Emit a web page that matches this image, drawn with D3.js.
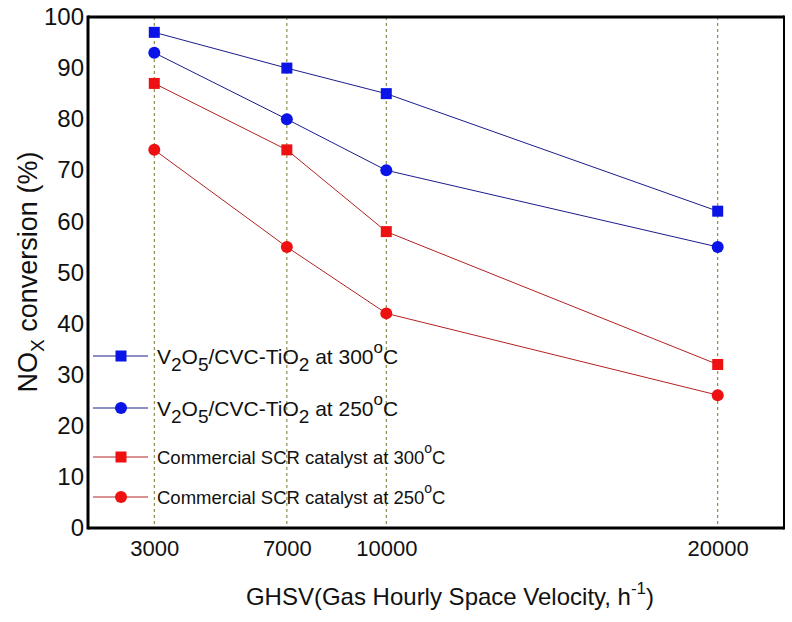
<!DOCTYPE html>
<html><head><meta charset="utf-8">
<script src="https://cdn.jsdelivr.net/npm/d3@7"></script>
<style>body{margin:0;background:#fff}svg{display:block;font-family:"Liberation Sans",Arial,sans-serif}</style>
</head><body><svg id="c" width="792" height="622"></svg>
<script>
const ghsv = [3000, 7000, 10000, 20000];
const xTickLabels = ["3000", "7000", "10000", "20000"];
const yTicks = [0,10,20,30,40,50,60,70,80,90,100];
const v300 = [97, 90, 85, 62];
const v250 = [93, 80, 70, 55];
const c300 = [87, 74, 58, 32];
const c250 = [74, 55, 42, 26];

const series = [
  {vals: v300, shape: "square", line: "#1c1c8c", fill: "#0a14e6", label: "V2O5/CVC-TiO2 at 300", big: true},
  {vals: v250, shape: "circle", line: "#1c1c8c", fill: "#0a14e6", label: "V2O5/CVC-TiO2 at 250", big: true},
  {vals: c300, shape: "square", line: "#b22222", fill: "#ee1111", label: "Commercial SCR catalyst at 300", big: false},
  {vals: c250, shape: "circle", line: "#b22222", fill: "#ee1111", label: "Commercial SCR catalyst at 250", big: false}
];

const L = 88, R = 784, T = 17, B = 528;
const svg = d3.select("#c");
const x = d3.scaleLinear().domain([1000, 22000]).range([L, R]);
const y = d3.scaleLinear().domain([0, 100]).range([B, T]);

// gridlines
svg.append("g").selectAll("line").data(ghsv).join("line")
  .attr("x1", d => x(d)).attr("x2", d => x(d)).attr("y1", T).attr("y2", B)
  .attr("stroke", "#76762a").attr("stroke-width", 1).attr("stroke-dasharray", "3,3");

function marker(g, shape, cx, cy, fill) {
  if (shape === "square") {
    g.append("rect").attr("x", cx - 5.5).attr("y", cy - 5.5).attr("width", 11).attr("height", 11).attr("fill", fill);
  } else {
    g.append("circle").attr("cx", cx).attr("cy", cy).attr("r", 6).attr("fill", fill);
  }
}
const lineGen = d3.line().x((d, i) => x(ghsv[i])).y(d => y(d));
series.forEach(s => {
  svg.append("path").attr("d", lineGen(s.vals)).attr("fill", "none").attr("stroke", s.line).attr("stroke-width", 1);
  const g = svg.append("g");
  s.vals.forEach((v, i) => marker(g, s.shape, x(ghsv[i]), y(v), s.fill));
});

// frame
svg.append("line").attr("x1", L).attr("x2", R).attr("y1", T).attr("y2", T).attr("stroke", "#000").attr("stroke-width", 3);
svg.append("line").attr("x1", L).attr("x2", R).attr("y1", B).attr("y2", B).attr("stroke", "#000").attr("stroke-width", 3);
svg.append("line").attr("x1", L).attr("x2", L).attr("y1", T - 1.5).attr("y2", B + 1.5).attr("stroke", "#000").attr("stroke-width", 3);
svg.append("line").attr("x1", R).attr("x2", R).attr("y1", T - 1.5).attr("y2", B + 1.5).attr("stroke", "#000").attr("stroke-width", 2);

// axes (no tick marks)
const yAxis = d3.axisLeft(y).tickValues(yTicks).tickSize(0).tickPadding(4);
const ya = svg.append("g").attr("transform", `translate(${L},0)`).call(yAxis);
ya.select(".domain").remove();
ya.selectAll("text").attr("font-size", 24).attr("fill", "#111").attr("font-family", "Liberation Sans, Arial");

const xAxis = d3.axisBottom(x).tickValues(ghsv).tickFormat((d, i) => xTickLabels[i]).tickSize(0).tickPadding(12);
const xa = svg.append("g").attr("transform", `translate(0,${B})`).call(xAxis);
xa.select(".domain").remove();
xa.selectAll("text").attr("font-size", 22).attr("fill", "#111").attr("font-family", "Liberation Sans, Arial");

// axis titles
const xt = svg.append("text").attr("x", 450).attr("y", 605).attr("text-anchor", "middle").attr("font-size", 24).attr("fill", "#111");
xt.append("tspan").text("GHSV(Gas Hourly Space Velocity, h");
xt.append("tspan").attr("dy", -11).attr("font-size", 17).text("-1");
xt.append("tspan").attr("dy", 11).text(")");

const yt = svg.append("text").attr("transform", "translate(37,272) rotate(-90)").attr("text-anchor", "middle").attr("font-size", 27).attr("fill", "#111");
yt.append("tspan").text("NO");
yt.append("tspan").attr("dy", 7).attr("font-size", 19).text("X");
yt.append("tspan").attr("dy", -7).text(" conversion (%)");

// legend
const legY = [356, 408, 457, 497];
series.forEach((s, i) => {
  const g = svg.append("g");
  const ly = legY[i];
  g.append("line").attr("x1", 93).attr("x2", 148).attr("y1", ly).attr("y2", ly).attr("stroke", s.line).attr("stroke-width", 1);
  marker(g, s.shape, 121, ly, s.fill);
  if (s.big) {
    const t = g.append("text").attr("x", 157).attr("y", ly + 8).attr("font-size", 21).attr("fill", "#111");
    const temp = s.label.slice(-3);
    t.append("tspan").text("V");
    t.append("tspan").attr("dy", 7).attr("font-size", 19).text("2");
    t.append("tspan").attr("dy", -7).text("O");
    t.append("tspan").attr("dy", 7).attr("font-size", 19).text("5");
    t.append("tspan").attr("dy", -7).text("/CVC-TiO");
    t.append("tspan").attr("dy", 7).attr("font-size", 19).text("2");
    t.append("tspan").attr("dy", -7).text(" at " + temp);
    t.append("tspan").attr("dy", -11).attr("font-size", 17).text("o");
    t.append("tspan").attr("dy", 11).text("C");
  } else {
    const t = g.append("text").attr("x", 157).attr("y", ly + 7).attr("font-size", 18.5).attr("fill", "#111");
    t.append("tspan").text(s.label);
    t.append("tspan").attr("dy", -11).attr("font-size", 14).text("o");
    t.append("tspan").attr("dy", 11).text("C");
  }
});
</script></body></html>
